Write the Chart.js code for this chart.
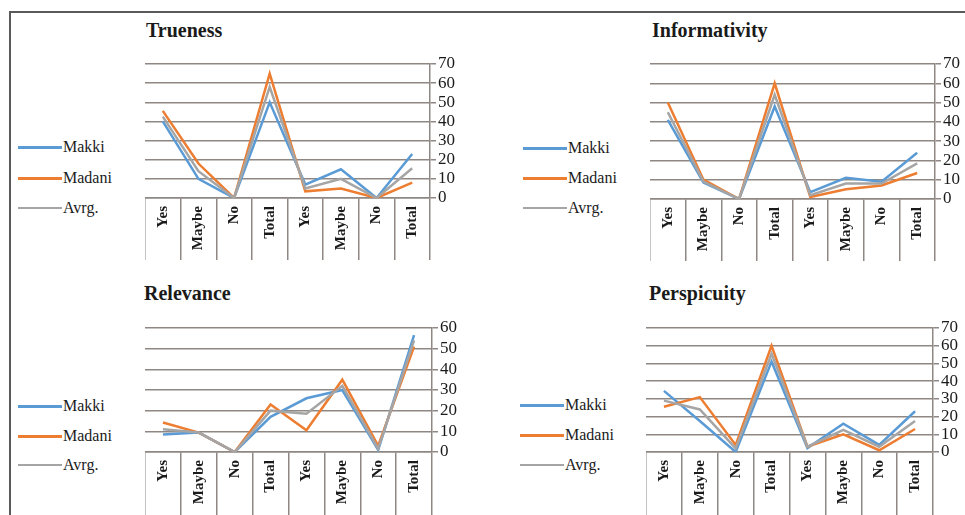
<!DOCTYPE html>
<html>
<head>
<meta charset="utf-8">
<script src="https://cdn.jsdelivr.net/npm/chart.js@4/dist/chart.umd.min.js"></script>
<style>
  html, body { margin: 0; padding: 0; background: #fff; overflow: hidden; }
  body { width: 965px; height: 515px; position: relative; font-family: "Liberation Serif", "Times New Roman", serif; color: #1a1a1a; }
  .frame { position: absolute; left: 9px; top: 11px; width: 1000px; height: 600px; border-left: 2px solid #5a5a5a; border-top: 2px solid #5a5a5a; }
  .title { position: absolute; font-weight: bold; font-size: 20px; line-height: 20px; white-space: nowrap; }
  .leg { position: absolute; font-size: 16px; height: 20px; line-height: 20px; white-space: nowrap; }
  .leg i { display: inline-block; width: 44px; height: 3px; vertical-align: middle; margin-right: 1px; position: relative; top: -1px; }
  canvas { position: absolute; }
</style>
</head>
<body>
<div class="frame"></div>
<script>
const categories = ["Yes", "Maybe", "No", "Total", "Yes", "Maybe", "No", "Total"];
const seriesNames = ["Makki", "Madani", "Avrg."];
const seriesColors = ["#5b9bd5", "#ed7d31", "#a5a5a5"];

const truenessMakki  = [40, 10, 0, 50, 7, 15, 0, 23];
const truenessMadani = [45.5, 18, 0, 65, 3.5, 5, 0, 8];
const truenessAvrg   = [42.5, 14, 0, 58, 5, 10, 0, 15.5];

const informMakki  = [41, 8.5, 0, 48, 3.5, 11, 9, 24];
const informMadani = [50, 10, 0, 60, 1, 5, 7, 13.5];
const informAvrg   = [45, 9, 0, 54, 2, 8, 8, 18.5];

const relevMakki  = [8.5, 9.4, 0, 17, 26, 30, 1, 56.5];
const relevMadani = [14.3, 9.4, 0, 23, 10.5, 35, 3, 51];
const relevAvrg   = [11, 9.4, 0, 20, 18.5, 32, 1.6, 54];

const perspMakki  = [34.5, 17.5, 0, 51, 2.2, 16, 4, 23];
const perspMadani = [25.5, 31, 4, 60, 3, 10, 1, 13];
const perspAvrg   = [29, 24, 2, 55.5, 3, 12.5, 3, 17.5];

const yMaxTop = 70;
const yMaxRelevance = 60;
const yMaxPerspicuity = 70;
const yStep = 10;

const SERIF = '"Liberation Serif", "Times New Roman", serif';
const GRID = "#8f8783";
const PAD_TOP = 12;
const Y_AXIS_W = 40;

function addTitle(text, left, top) {
  const d = document.createElement("div");
  d.className = "title";
  d.style.left = left + "px";
  d.style.top = top + "px";
  d.textContent = text;
  document.body.appendChild(d);
}

function addLegend(left, rows) {
  seriesNames.forEach((name, i) => {
    const d = document.createElement("div");
    d.className = "leg";
    d.style.left = left + "px";
    d.style.top = (rows[i] - 10) + "px";
    const line = document.createElement("i");
    line.style.background = seriesColors[i];
    if (i === 2) line.style.height = "2px";
    d.appendChild(line);
    d.appendChild(document.createTextNode(name));
    document.body.appendChild(d);
  });
}

function addPanel(p) {
  const c = document.createElement("canvas");
  c.width = p.width + Y_AXIS_W;
  c.height = PAD_TOP + p.height + p.xAxisH;
  c.style.left = p.left + "px";
  c.style.top = (p.top - PAD_TOP) + "px";
  document.body.appendChild(c);

  new Chart(c, {
    type: "line",
    data: {
      labels: categories,
      datasets: p.series.map((vals, i) => ({
        label: seriesNames[i],
        data: vals,
        borderColor: seriesColors[i],
        backgroundColor: seriesColors[i],
        borderWidth: 2.5,
        pointRadius: 0,
        tension: 0,
        order: 3 - i,
      })),
    },
    options: {
      responsive: false,
      animation: false,
      layout: { padding: { top: PAD_TOP, left: 0, right: 0, bottom: 0 } },
      plugins: { legend: { display: false }, tooltip: { enabled: false }, title: { display: false } },
      scales: {
        x: {
          type: "category",
          offset: true,
          grid: { offset: true, drawOnChartArea: false, drawTicks: true, tickLength: p.xAxisH, color: GRID, lineWidth: 1.5 },
          border: { display: true, color: GRID, width: 1.5 },
          ticks: {
            autoSkip: false, minRotation: 90, maxRotation: 90,
            padding: 8 - p.xAxisH,
            color: "#1a1a1a",
            font: { family: SERIF, size: 15, weight: "bold" },
          },
          afterFit: (s) => { s.height = p.xAxisH; },
        },
        y: {
          position: "right",
          min: 0,
          max: p.yMax,
          ticks: { stepSize: yStep, autoSkip: false, padding: 2, color: "#1a1a1a", font: { family: SERIF, size: 17, lineHeight: 1 } },
          grid: { color: GRID, lineWidth: 1.5, tickLength: 6, drawTicks: true },
          border: { display: true, color: GRID, width: 1.5 },
          afterFit: (s) => { s.width = Y_AXIS_W; },
        },
      },
    },
  });
}

addTitle("Trueness", 146, 20);
addLegend(18, [147, 178, 208]);
addPanel({ left: 145, top: 64, width: 285, height: 134, xAxisH: 62, yMax: yMaxTop,
  series: [truenessMakki, truenessMadani, truenessAvrg] });

addTitle("Informativity", 652, 20);
addLegend(523, [148, 178, 208]);
addPanel({ left: 650, top: 64, width: 285, height: 135, xAxisH: 62, yMax: yMaxTop,
  series: [informMakki, informMadani, informAvrg] });

addTitle("Relevance", 144, 283);
addLegend(18, [406, 436, 465]);
addPanel({ left: 145, top: 328, width: 287, height: 124, xAxisH: 63, yMax: yMaxRelevance,
  series: [relevMakki, relevMadani, relevAvrg] });

addTitle("Perspicuity", 649, 283);
addLegend(520, [405, 435, 465]);
addPanel({ left: 646, top: 328, width: 287, height: 124, xAxisH: 63, yMax: yMaxPerspicuity,
  series: [perspMakki, perspMadani, perspAvrg] });
</script>
</body>
</html>
